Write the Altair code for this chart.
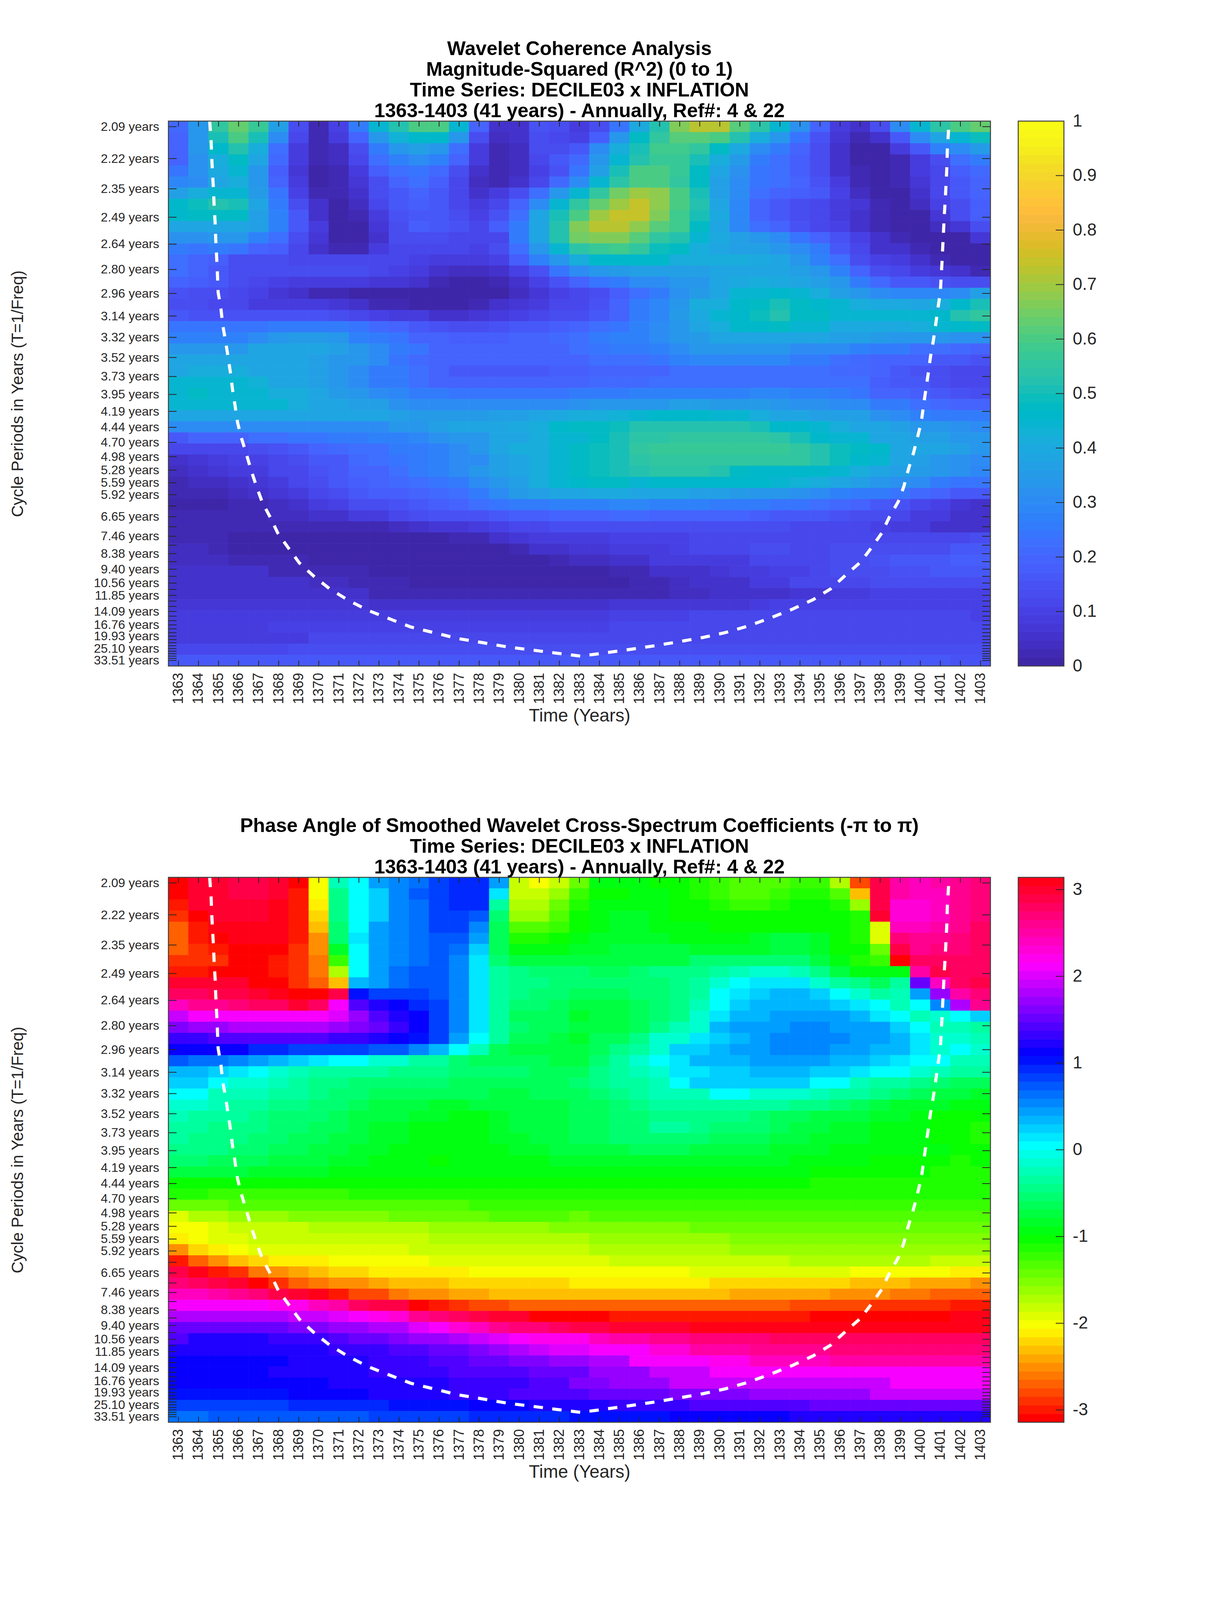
import colorsys
import altair as alt
import pandas as pd

FONT = "Liberation Sans"
INK = "#262626"
W, H, CBW = 2104, 1395, 117

years = list(range(1363, 1404))
periods = [2.0944, 2.2189, 2.3509, 2.4907, 2.6388, 2.7957, 2.9620, 3.1381, 3.3247, 3.5224, 3.7319, 3.9538,
           4.1888, 4.4379, 4.7018, 4.9814, 5.2776, 5.5914, 5.9239, 6.2762, 6.6494, 7.0448, 7.4637, 7.9075,
           8.3776, 8.8758, 9.4036, 9.9628, 10.5552, 11.1828, 11.8478, 12.5523, 13.2988, 14.0896, 14.9274,
           15.8150, 16.7552, 17.7515, 18.8071, 19.9255, 21.1103, 22.3656, 23.6955, 25.1045, 26.5973,
           28.1789, 29.8545, 31.6298, 33.5104]
labelled_periods = [2.0944, 2.2189, 2.3509, 2.4907, 2.6388, 2.7957, 2.9620, 3.1381, 3.3247, 3.5224, 3.7319,
                    3.9538, 4.1888, 4.4379, 4.7018, 4.9814, 5.2776, 5.5914, 5.9239, 6.6494, 7.4637, 8.3776,
                    9.4036, 10.5552, 11.8478, 14.0896, 16.7552, 19.9255, 25.1045, 33.5104]

# Coherence in percent, one list per cycle-period row (top = shortest period)
coh00 = [21,34,55,63,57,36,13,3,10,25,44,52,60,60,44,20,5,5,15,14,9,14,24,40,53,66,73,73,62,54,44,32,20,8,5,14,30,44,54,60,63]
coh01 = [20,34,50,60,50,30,12,3,8,20,33,43,46,46,34,13,4,5,14,12,10,18,33,47,56,62,62,60,52,42,33,24,15,7,3,6,16,30,38,44,49]
coh02 = [19,33,46,53,42,23,9,2,4,14,26,34,36,34,22,8,3,4,13,13,16,30,42,50,58,58,56,48,40,30,26,20,14,6,1,1,8,16,27,31,35]
coh03 = [19,32,42,47,38,21,8,2,4,12,22,28,30,28,19,8,3,4,11,16,21,33,45,53,57,57,50,42,35,26,22,18,13,6,1,0,3,9,13,22,26]
coh04 = [24,32,40,44,34,18,7,1,3,9,18,22,24,21,14,6,2,4,10,15,24,36,50,60,60,57,48,39,32,24,22,18,14,6,2,0,3,8,12,18,21]
coh05 = [29,30,38,42,34,20,8,1,3,7,14,20,22,18,11,4,2,6,12,21,30,44,54,60,60,55,47,37,30,24,22,20,15,9,3,0,3,7,11,17,19]
coh06 = [37,42,44,44,35,24,10,3,3,5,13,17,19,16,11,6,8,13,23,33,44,55,65,70,68,60,50,37,30,22,20,18,16,10,4,0,1,5,11,17,19]
coh07 = [46,49,52,50,38,25,14,5,1,4,11,16,18,16,12,8,11,19,31,44,55,63,70,74,68,60,53,39,29,20,17,14,12,9,7,3,0,4,10,14,18]
coh08 = [46,47,48,47,36,28,17,6,1,2,8,15,17,16,13,10,15,23,38,51,60,70,74,74,67,59,51,40,29,20,16,13,11,9,6,3,0,1,7,13,18]
coh09 = [38,38,39,39,36,28,16,8,0,1,7,14,18,17,15,12,18,25,38,53,66,72,72,68,62,58,47,38,29,22,20,15,12,10,6,3,0,0,4,7,13]
coh10 = [32,32,33,34,27,22,14,7,0,0,6,13,14,14,12,11,12,25,38,53,65,66,66,62,55,53,44,40,36,33,30,24,20,15,10,5,2,0,0,1,7]
coh11 = [25,24,25,24,20,18,12,6,2,3,9,12,12,12,11,10,13,22,34,44,54,57,58,55,49,47,42,39,37,36,34,31,26,17,12,6,5,2,0,0,1]
coh12 = [23,20,18,14,14,13,12,11,11,11,11,11,10,9,8,8,10,18,27,34,42,46,46,46,46,42,41,41,41,40,39,34,28,22,13,10,8,5,3,0,0]
coh13 = [22,19,17,14,13,13,13,13,13,13,11,10,8,6,4,4,5,10,15,24,31,34,35,36,36,37,37,38,38,38,38,36,33,27,20,14,12,9,7,5,2]
coh14 = [20,18,16,13,12,10,9,9,9,9,7,7,5,3,1,1,2,6,10,15,20,24,25,30,30,34,34,38,40,42,40,38,37,33,26,21,17,16,15,14,14]
coh15 = [15,14,13,11,10,7,6,3,3,1,1,1,0,0,0,0,0,4,7,10,12,14,18,22,26,32,35,38,44,45,46,44,42,37,34,30,29,29,29,31,36]
coh16 = [14,13,12,11,9,9,8,8,7,5,3,3,1,1,1,3,5,7,8,11,12,15,20,25,29,33,41,41,46,48,51,48,46,44,42,40,40,39,41,46,50]
coh17 = [16,15,15,15,15,15,15,15,13,12,10,9,8,6,6,7,9,10,11,14,14,17,20,25,29,35,40,44,46,49,53,48,48,45,45,45,45,45,46,53,55]
coh18 = [24,24,24,24,24,25,25,25,25,24,21,19,16,15,14,14,15,16,17,18,20,22,24,27,30,34,38,42,46,46,47,45,45,40,40,40,40,41,44,46,47]
coh19 = [28,28,28,28,31,34,35,35,33,28,25,24,20,19,18,18,18,20,20,21,23,26,27,28,31,33,35,38,38,39,39,38,38,37,36,35,34,33,33,32,32]
coh20 = [33,33,33,33,38,38,38,38,36,33,31,25,24,19,19,19,19,19,20,20,22,24,25,26,28,30,34,34,34,34,34,31,31,30,28,26,25,23,22,21,19]
coh21 = [38,38,39,39,39,39,39,37,34,34,30,24,21,19,19,19,19,19,19,20,20,22,23,23,24,27,29,29,29,29,29,26,25,23,21,20,19,19,17,16,15]
coh22 = [38,41,41,41,39,39,39,37,34,31,26,25,22,20,17,17,17,17,17,18,18,19,19,20,20,23,23,23,23,23,23,23,23,21,21,19,17,15,14,11,11]
coh23 = [45,45,45,45,43,39,39,37,34,31,26,25,22,20,19,19,19,19,19,19,20,21,21,21,23,23,23,23,23,23,23,23,23,22,22,18,17,16,14,12,12]
coh24 = [45,47,45,45,44,41,41,39,35,33,30,29,25,25,24,24,24,24,24,24,25,25,25,28,28,28,28,28,28,29,29,27,27,26,24,20,20,18,17,15,14]
coh25 = [44,44,44,44,44,44,41,38,38,37,37,32,31,30,30,30,30,30,30,31,32,33,33,33,34,37,37,35,35,35,33,32,32,30,30,26,26,22,21,20,19]
coh26 = [39,39,39,39,39,39,39,39,39,39,39,36,35,35,35,35,36,37,38,40,41,42,43,44,46,46,46,45,44,42,39,38,37,36,36,32,30,28,26,26,25]
coh27 = [30,30,30,30,30,30,31,31,31,31,31,33,34,36,38,38,38,40,41,46,47,47,49,52,52,52,52,52,52,50,46,46,44,41,39,38,36,34,34,32,30]
coh28 = [17,19,19,20,22,23,24,24,25,25,27,28,29,32,34,34,38,39,42,44,45,48,50,54,54,56,56,56,56,56,54,50,46,45,44,39,38,37,37,34,33]
coh29 = [11,11,11,12,13,15,17,20,21,23,23,25,26,28,31,33,38,41,42,45,48,49,51,56,57,57,57,57,57,57,57,56,53,49,47,46,38,38,38,36,33]
coh30 = [6,7,9,10,10,12,14,16,17,21,23,24,26,28,30,31,36,39,41,45,47,49,51,54,55,55,55,55,56,56,56,56,53,49,46,44,39,36,33,32,31]
coh31 = [4,5,7,8,9,11,11,15,16,20,20,23,25,27,30,33,36,38,41,45,47,49,50,53,54,54,54,52,48,46,46,46,46,44,42,38,37,35,33,32,29]
coh32 = [3,4,4,6,7,9,12,14,16,18,20,21,23,24,26,30,34,37,41,44,46,47,47,45,46,46,46,46,46,46,45,43,41,38,36,33,32,30,26,24,24]
coh33 = [2,2,3,4,5,7,8,11,14,16,18,18,20,21,23,26,30,35,36,38,38,40,40,39,39,38,37,36,35,34,33,32,30,27,26,25,24,21,20,17,16]
coh34 = [1,1,1,3,3,4,5,8,10,13,14,15,17,18,20,22,24,25,26,27,27,28,29,29,28,27,27,26,26,25,24,24,22,21,20,17,15,12,10,7,6]
coh35 = [2,2,2,3,3,4,4,6,6,9,9,11,13,15,15,15,17,18,18,20,20,20,21,21,20,19,19,19,19,18,17,16,16,15,14,13,12,9,8,6,5]
coh36 = [3,2,2,2,3,3,2,2,2,3,3,4,5,7,7,9,10,11,11,13,13,13,13,13,13,13,13,13,13,13,13,12,11,11,11,10,9,9,6,6,6]
coh37 = [3,2,2,1,1,1,1,1,0,0,0,1,1,1,2,2,5,7,8,8,9,9,10,10,10,10,11,11,11,11,11,11,11,11,11,11,11,11,11,11,13]
coh38 = [4,4,2,1,1,1,1,1,1,1,1,1,0,0,0,0,1,3,5,5,7,7,8,9,9,10,11,11,11,13,13,11,11,13,13,13,14,14,14,16,16]
coh39 = [4,4,4,3,3,2,2,1,1,1,1,1,0,0,0,0,0,0,0,3,4,4,6,6,8,8,9,9,9,11,11,12,12,14,14,15,16,17,17,18,18]
coh40 = [5,5,5,5,5,3,3,3,3,3,0,0,0,0,0,0,0,0,0,1,1,1,2,2,5,6,6,7,8,8,10,10,12,13,13,13,15,15,16,17,17]
coh41 = [5,5,5,5,5,5,5,4,4,3,3,2,1,1,1,1,1,1,1,1,1,1,1,2,2,4,5,5,5,8,9,11,11,12,12,13,13,13,13,14,13]
coh42 = [6,6,6,6,6,6,6,6,6,6,2,2,2,2,2,2,2,2,2,2,2,2,3,3,3,4,4,5,5,6,6,7,7,8,8,10,10,10,10,10,10]
coh43 = [7,7,7,7,7,7,7,7,7,7,6,6,6,6,6,6,6,5,5,5,5,5,7,7,7,7,7,7,7,8,10,10,10,10,10,10,10,10,10,10,10]
coh44 = [8,8,8,8,8,8,8,8,8,8,9,9,9,9,9,9,9,9,9,9,9,9,10,10,10,10,11,11,11,11,11,11,11,11,11,12,12,12,12,12,10]
coh45 = [8,8,8,8,8,10,10,10,10,10,10,10,10,10,10,10,10,10,10,10,10,10,11,11,11,11,11,11,11,11,11,11,11,11,11,11,11,11,11,11,11]
coh46 = [9,9,9,9,9,9,9,11,11,11,11,11,11,11,11,11,11,11,11,11,11,12,12,12,12,12,12,12,12,12,12,12,12,12,12,12,12,12,12,11,11]
coh47 = [12,12,12,12,12,12,13,13,13,13,13,13,13,13,13,13,13,13,13,13,13,14,14,14,14,14,14,14,14,14,14,14,14,14,14,14,13,13,13,13,13]
coh48 = [17,17,17,17,17,17,17,17,17,17,17,17,17,17,17,17,17,16,16,16,16,16,16,16,16,16,16,16,16,16,16,16,16,16,16,16,16,16,16,15,15]

# Phase angle in tenths of a radian, one list per cycle-period row
ph00 = [-31,30,30,29,29,30,-31,-20,-2,0,4,5,6,8,9,9,4,-18,-20,-18,-14,-9,-9,-9,-10,-10,-11,-12,-13,-13,-13,-12,-12,-17,-28,29,25,24,25,26,27]
ph01 = [-31,30,30,29,29,30,-30,-20,-4,0,2,5,7,8,9,9,1,-18,-18,-16,-12,-10,-10,-9,-9,-10,-11,-12,-13,-13,-12,-11,-11,-13,-23,29,25,24,24,26,27]
ph02 = [-30,30,30,30,30,31,-30,-21,-4,0,2,5,6,8,9,9,-3,-17,-17,-14,-11,-9,-9,-9,-9,-10,-10,-11,-12,-12,-11,-10,-10,-11,-16,29,23,23,24,26,27]
ph03 = [-29,-31,30,30,30,31,-30,-22,-4,0,2,5,6,8,8,7,-5,-16,-16,-13,-10,-9,-8,-8,-9,-10,-10,-10,-10,-10,-10,-10,-10,-10,-11,30,23,23,24,26,27]
ph04 = [-27,-30,31,31,31,31,-30,-23,-5,0,4,5,6,8,8,5,-6,-13,-13,-12,-10,-9,-8,-8,-9,-9,-9,-10,-10,-10,-10,-10,-10,-10,-11,-19,24,24,25,26,28]
ph05 = [-27,-30,-31,31,31,31,-30,-25,-5,1,4,5,6,7,7,4,-6,-11,-11,-10,-9,-8,-8,-8,-8,-9,-9,-9,-9,-8,-7,-7,-8,-10,-11,-19,27,26,26,27,28]
ph06 = [-27,-29,-30,-31,-31,-31,-29,-25,-8,0,4,5,6,7,6,2,-6,-9,-9,-9,-8,-8,-7,-7,-7,-7,-8,-8,-8,-8,-7,-7,-8,-10,-10,-14,29,26,27,27,28]
ph07 = [-29,-29,-29,-31,-31,-30,-29,-26,-12,0,4,5,6,7,5,1,-5,-7,-7,-7,-7,-7,-7,-7,-7,-7,-5,-5,-5,-5,-5,-5,-7,-9,-11,-12,-31,28,28,28,28]
ph08 = [-30,-30,-31,-31,-31,-30,-29,-26,-17,0,4,6,7,7,5,1,-3,-4,-5,-5,-5,-6,-6,-5,-4,-4,-4,-3,-2,-1,-1,-2,-4,-7,-9,-9,-9,25,29,28,28]
ph09 = [30,30,30,30,-31,-31,-29,-27,-23,3,4,6,7,7,5,1,-3,-4,-4,-5,-5,-5,-5,-5,-5,-4,-3,-1,0,1,1,1,-1,-3,-4,-6,-3,15,24,28,29]
ph10 = [28,28,29,29,30,31,-31,-31,29,10,8,8,8,7,5,1,-3,-4,-5,-5,-6,-6,-6,-5,-5,-4,-3,0,1,2,3,3,2,0,-1,-3,-2,4,17,25,27]
ph11 = [24,26,26,27,28,28,30,28,21,14,12,11,9,8,5,1,-3,-5,-5,-6,-7,-7,-7,-6,-5,-4,-2,0,2,3,3,3,3,2,1,0,-2,0,5,18,26]
ph12 = [19,21,21,21,21,21,21,21,20,17,14,12,11,8,5,1,-3,-6,-6,-6,-8,-7,-7,-6,-5,-4,-1,1,3,3,4,4,4,4,3,1,0,-2,-1,0,2]
ph13 = [16,17,17,18,18,18,18,18,17,16,15,13,11,8,5,1,-3,-5,-6,-6,-7,-7,-7,-6,-4,-2,-1,3,4,4,4,5,5,4,4,4,2,0,-2,-2,-3]
ph14 = [13,13,14,14,14,14,14,14,13,13,12,11,10,8,4,0,-3,-6,-6,-7,-8,-6,-6,-4,-1,-1,1,2,3,4,5,5,5,5,4,4,3,1,-1,-1,-2]
ph15 = [11,11,11,11,9,9,8,8,8,8,7,7,5,3,0,-2,-6,-7,-7,-7,-7,-6,-4,-3,-1,2,2,3,4,4,5,5,5,4,4,3,3,1,-1,0,-1]
ph16 = [7,6,6,5,4,3,2,1,0,0,-1,-1,-3,-3,-5,-6,-6,-6,-6,-7,-7,-5,-3,-1,0,1,3,3,3,4,4,4,4,3,3,2,1,0,0,-2,-2]
ph17 = [3,3,2,1,0,-1,-2,-3,-3,-3,-3,-4,-4,-4,-5,-5,-5,-5,-6,-6,-6,-4,-3,-2,-1,1,1,2,2,3,3,3,2,2,1,0,0,-1,-2,-3,-3]
ph18 = [2,2,0,-1,-1,-2,-3,-4,-4,-5,-5,-5,-5,-5,-6,-6,-6,-6,-6,-6,-5,-4,-3,-3,-2,0,2,2,2,2,2,2,0,0,-2,-3,-3,-4,-5,-6,-6]
ph19 = [0,0,-2,-2,-2,-3,-3,-4,-5,-5,-6,-6,-6,-6,-6,-6,-7,-7,-6,-6,-6,-5,-4,-3,-2,-2,-2,0,0,-1,-1,-1,-2,-3,-3,-4,-5,-6,-7,-7,-8]
ph20 = [-1,-1,-2,-3,-3,-4,-4,-5,-5,-6,-7,-7,-7,-8,-8,-7,-7,-7,-7,-7,-6,-6,-5,-4,-3,-3,-3,-3,-3,-3,-3,-4,-4,-5,-6,-7,-8,-8,-8,-9,-9]
ph21 = [-2,-3,-3,-3,-4,-5,-5,-5,-6,-7,-7,-7,-8,-8,-9,-9,-8,-7,-7,-7,-6,-6,-5,-5,-4,-4,-4,-4,-4,-5,-6,-6,-7,-7,-7,-8,-8,-9,-10,-10,-10]
ph22 = [-3,-3,-4,-4,-4,-5,-5,-6,-6,-7,-8,-8,-9,-9,-9,-9,-8,-7,-7,-7,-6,-6,-5,-5,-3,-3,-4,-5,-5,-5,-6,-7,-7,-8,-8,-9,-9,-9,-10,-10,-11]
ph23 = [-3,-4,-4,-4,-5,-5,-6,-6,-7,-7,-8,-8,-9,-9,-9,-9,-8,-8,-7,-7,-6,-6,-5,-5,-5,-5,-5,-6,-6,-6,-7,-7,-8,-8,-8,-9,-9,-9,-10,-10,-11]
ph24 = [-4,-4,-4,-5,-5,-6,-6,-7,-7,-8,-8,-9,-9,-9,-9,-9,-9,-8,-8,-7,-7,-7,-7,-6,-6,-6,-7,-7,-7,-7,-8,-8,-8,-9,-9,-9,-9,-9,-9,-10,-10]
ph25 = [-5,-5,-6,-6,-6,-7,-7,-7,-8,-8,-9,-9,-9,-10,-9,-9,-9,-9,-9,-8,-8,-8,-8,-8,-8,-8,-8,-8,-8,-8,-8,-9,-9,-9,-9,-10,-10,-10,-10,-11,-10]
ph26 = [-7,-7,-7,-7,-8,-8,-8,-8,-9,-9,-9,-9,-9,-9,-9,-9,-9,-9,-9,-9,-9,-9,-9,-9,-9,-9,-9,-9,-9,-9,-9,-9,-10,-10,-10,-10,-10,-10,-11,-11,-11]
ph27 = [-10,-10,-10,-10,-10,-10,-10,-10,-10,-10,-10,-10,-10,-10,-10,-10,-10,-10,-10,-10,-10,-10,-10,-10,-10,-10,-10,-10,-10,-10,-10,-10,-11,-11,-11,-11,-11,-11,-11,-11,-11]
ph28 = [-11,-11,-12,-12,-12,-12,-12,-12,-12,-11,-11,-11,-11,-11,-11,-11,-11,-11,-11,-11,-11,-11,-11,-11,-11,-11,-11,-11,-11,-11,-11,-11,-11,-11,-11,-11,-11,-11,-11,-11,-11]
ph29 = [-14,-14,-14,-13,-13,-13,-13,-13,-13,-13,-13,-13,-13,-13,-13,-12,-12,-12,-12,-12,-12,-12,-12,-12,-12,-12,-12,-12,-12,-12,-12,-12,-12,-12,-12,-12,-12,-12,-12,-12,-12]
ph30 = [-19,-17,-17,-16,-16,-16,-15,-15,-15,-15,-15,-14,-14,-14,-14,-14,-13,-13,-13,-13,-14,-13,-13,-13,-13,-13,-13,-13,-13,-13,-13,-13,-13,-13,-13,-13,-13,-13,-13,-13,-13]
ph31 = [-20,-20,-19,-18,-18,-18,-18,-17,-17,-17,-17,-17,-17,-16,-16,-16,-16,-16,-16,-15,-15,-15,-15,-15,-15,-15,-14,-14,-14,-14,-14,-14,-14,-14,-14,-14,-14,-14,-14,-14,-14]
ph32 = [-21,-20,-19,-19,-18,-18,-18,-18,-18,-18,-18,-18,-18,-17,-17,-17,-17,-17,-17,-17,-17,-16,-16,-16,-16,-16,-16,-16,-15,-15,-15,-15,-15,-15,-15,-15,-15,-15,-15,-15,-15]
ph33 = [-25,-22,-21,-20,-19,-19,-19,-19,-19,-19,-19,-19,-18,-18,-18,-18,-18,-18,-18,-18,-18,-17,-17,-17,-17,-17,-17,-17,-16,-16,-16,-16,-16,-16,-16,-16,-16,-16,-16,-16,-16]
ph34 = [-30,-27,-25,-23,-22,-21,-21,-21,-20,-20,-20,-20,-20,-19,-19,-19,-19,-19,-19,-19,-19,-19,-18,-18,-18,-18,-18,-18,-18,-18,-18,-17,-17,-17,-17,-17,-17,-17,-18,-18,-18]
ph35 = [29,31,-30,-29,-26,-25,-24,-23,-22,-22,-21,-21,-21,-21,-21,-20,-20,-20,-20,-20,-20,-20,-20,-20,-20,-20,-19,-19,-19,-19,-19,-19,-19,-19,-20,-20,-20,-20,-20,-21,-21]
ph36 = [27,28,29,30,-31,-29,-27,-26,-25,-25,-24,-23,-23,-23,-22,-22,-22,-22,-22,-22,-21,-21,-21,-21,-21,-21,-21,-22,-22,-22,-22,-22,-22,-22,-23,-23,-23,-24,-24,-24,-25]
ph37 = [24,24,25,26,27,29,30,31,-30,-28,-28,-26,-25,-25,-24,-24,-23,-23,-23,-23,-23,-23,-23,-23,-23,-23,-23,-23,-24,-24,-24,-24,-24,-25,-25,-25,-26,-26,-27,-27,-27]
ph38 = [21,21,21,21,21,22,22,24,25,28,29,29,-31,-30,-29,-28,-28,-27,-27,-27,-27,-27,-27,-27,-27,-27,-27,-27,-27,-27,-27,-28,-28,-28,-28,-29,-29,-29,-29,-30,-30]
ph39 = [18,18,18,18,18,18,19,19,20,21,22,23,26,27,28,29,30,30,-31,-31,-31,-31,-30,-30,-30,-30,-30,-30,-30,-30,-30,-30,-31,-31,-31,-31,-31,-31,-31,31,31]
ph40 = [15,15,15,15,15,15,16,16,17,17,18,18,20,21,23,24,26,27,27,28,29,29,30,30,30,30,31,31,31,31,31,31,31,31,31,31,31,31,31,31,31]
ph41 = [14,12,12,12,12,13,13,13,14,15,15,16,17,17,18,19,20,21,22,22,22,24,25,25,26,26,27,27,27,27,28,28,28,28,28,28,28,28,28,28,28]
ph42 = [12,12,12,12,12,12,12,12,13,13,13,14,14,15,15,16,17,18,19,20,20,21,21,21,23,23,25,25,25,26,26,26,26,27,27,27,27,27,27,27,27]
ph43 = [11,11,11,11,11,11,12,12,12,12,13,13,13,14,14,15,15,16,16,17,17,18,18,21,21,21,21,22,22,24,24,24,24,25,25,25,25,25,25,25,25]
ph44 = [11,11,11,11,11,12,12,12,12,12,13,13,13,13,14,14,14,14,15,15,15,17,17,17,19,19,19,21,21,21,21,21,21,21,21,21,21,21,21,21,21]
ph45 = [11,11,11,11,11,11,11,11,12,12,12,12,12,12,13,13,13,13,14,14,16,16,17,17,17,19,19,19,19,19,19,19,19,19,19,19,21,21,21,21,21]
ph46 = [10,10,10,10,10,10,11,11,11,11,12,12,12,12,13,13,13,14,14,14,14,15,15,15,15,16,16,16,16,17,17,17,17,17,17,19,19,19,19,19,19]
ph47 = [8,8,8,8,8,8,9,9,9,9,9,10,10,10,10,11,11,11,12,12,12,12,13,13,13,13,14,14,14,14,14,14,15,15,15,15,15,15,15,15,15]
ph48 = [6,6,7,7,7,7,7,7,7,7,8,8,8,8,8,9,9,9,9,9,10,10,10,10,10,11,11,11,11,11,11,12,12,12,12,12,12,12,12,12,12]

coh_rows = [coh00,coh01,coh02,coh03,coh04,coh05,coh06,coh07,coh08,coh09,coh10,coh11,coh12,coh13,coh14,coh15,coh16,
            coh17,coh18,coh19,coh20,coh21,coh22,coh23,coh24,coh25,coh26,coh27,coh28,coh29,coh30,coh31,coh32,coh33,
            coh34,coh35,coh36,coh37,coh38,coh39,coh40,coh41,coh42,coh43,coh44,coh45,coh46,coh47,coh48]
ph_rows = [ph00,ph01,ph02,ph03,ph04,ph05,ph06,ph07,ph08,ph09,ph10,ph11,ph12,ph13,ph14,ph15,ph16,
           ph17,ph18,ph19,ph20,ph21,ph22,ph23,ph24,ph25,ph26,ph27,ph28,ph29,ph30,ph31,ph32,ph33,
           ph34,ph35,ph36,ph37,ph38,ph39,ph40,ph41,ph42,ph43,ph44,ph45,ph46,ph47,ph48]
for name, rows in (("coh", coh_rows), ("ph", ph_rows)):
    for i, r in enumerate(rows):
        assert len(r) == 41, f"{name}{i}: {len(r)}"

# Cone of influence
coi_year = [1364.56,1364.63,1364.66,1364.70,1364.75,1364.78,1364.83,1364.86,1364.90,1364.94,1364.98,1365.12,1365.21,
            1365.35,1365.48,1365.60,1365.70,1365.83,1365.95,1366.15,1366.40,1366.63,1366.89,1367.18,1367.59,1367.96,
            1368.51,1369.03,1369.75,1370.55,1371.47,1372.42,1373.52,1374.59,1375.78,1376.91,1378.12,1379.40,1381.80,
            1383.05,1383.75,1385.52,1386.73,1387.94,1389.15,1390.28,1391.47,1392.54,1393.63,1394.65,1395.54,1396.26,
            1397.02,1397.57,1398.08,1398.45,1398.90,1399.17,1399.42,1399.66,1399.85,1400.05,1400.16,1400.28,1400.40,
            1400.51,1400.65,1400.77,1400.88,1401.00,1401.08,1401.12,1401.16,1401.20,1401.25,1401.29,1401.33,1401.35,
            1401.40,1401.42]
coi_freq = [.4818,.4656,.4519,.4382,.4245,.4110,.3973,.3836,.3699,.3562,.3387,.3248,.3111,
            .2976,.2839,.2704,.2567,.2430,.2293,.2159,.2023,.1891,.1759,.1626,.1495,.1365,
            .1236,.1116,.1005,.0898,.0804,.0721,.0648,.0579,.0530,.0483,.0449,.0412,.0361,
            .0335,.0350,.0391,.0421,.0455,.0491,.0532,.0590,.0656,.0729,.0808,.0900,.1012,
            .1123,.1245,.1367,.1499,.1630,.1752,.1908,.2038,.2163,.2297,.2436,.2573,.2710,
            .2847,.2980,.3119,.3252,.3389,.3631,.3768,.3905,.4042,.4176,.4313,.4450,.4587,
            .4722,.4774]

parula = [(.2422,.1504,.6603),(.2504,.1650,.7076),(.2578,.1818,.7511),(.2647,.1978,.7952),(.2706,.2147,.8364),
          (.2751,.2342,.8710),(.2783,.2559,.8991),(.2803,.2782,.9221),(.2813,.3006,.9414),(.2810,.3228,.9579),
          (.2795,.3447,.9717),(.2760,.3667,.9829),(.2699,.3892,.9906),(.2602,.4123,.9952),(.2440,.4358,.9988),
          (.2206,.4603,.9973),(.1963,.4847,.9892),(.1834,.5074,.9798),(.1786,.5289,.9682),(.1764,.5499,.9520),
          (.1687,.5703,.9359),(.1540,.5902,.9218),(.1460,.6091,.9079),(.1380,.6276,.8973),(.1248,.6459,.8883),
          (.1113,.6635,.8763),(.0952,.6798,.8598),(.0689,.6948,.8394),(.0297,.7082,.8163),(.0036,.7203,.7917),
          (.0067,.7312,.7660),(.0433,.7411,.7394),(.0964,.7500,.7120),(.1408,.7584,.6842),(.1717,.7670,.6554),
          (.1938,.7758,.6251),(.2161,.7843,.5923),(.2470,.7918,.5567),(.2906,.7973,.5188),(.3406,.8008,.4789),
          (.3909,.8029,.4354),(.4456,.8024,.3909),(.5044,.7993,.3480),(.5616,.7942,.3045),(.6174,.7876,.2612),
          (.6720,.7793,.2227),(.7242,.7698,.1910),(.7738,.7598,.1646),(.8203,.7498,.1535),(.8634,.7406,.1596),
          (.9035,.7330,.1774),(.9393,.7288,.2100),(.9728,.7298,.2394),(.9956,.7434,.2371),(.9961,.7653,.2199),
          (.9857,.7886,.2000),(.9700,.8120,.1850),(.9597,.8375,.1650),(.9561,.8640,.1500),(.9579,.8917,.1300),
          (.9634,.9200,.1150),(.9700,.9500,.1000),(.9740,.9700,.0900),(.9769,.9839,.0805)]


def to_hex(c):
    return "#%02x%02x%02x" % tuple(round(v * 255) for v in c)


PARULA = [to_hex(c) for c in parula]
HSV = [to_hex(colorsys.hsv_to_rgb(i / 64, 1, 1)) for i in range(64)]
PI = 3.14159265

f_top, f_bot = 1 / periods[0], 1 / periods[-1]
df_step = (f_top - f_bot) / 48
y_dom = [f_bot - df_step / 2, f_top + df_step / 2]
x_dom = [1362.5, 1403.5]
x_scale = alt.Scale(domain=x_dom, nice=False, zero=False)
y_scale = alt.Scale(domain=y_dom, nice=False, zero=False)

x_axis = alt.Axis(values=years, format="d", labelAngle=270, labelAlign="right", labelBaseline="middle",
                  labelFontSize=36, labelFont=FONT, labelColor=INK, labelPadding=17, labelOverlap=False,
                  labelFlush=False, ticks=False, domain=False, grid=False, title="Time (Years)", titleFontSize=46,
                  titleFont=FONT, titleFontWeight="normal", titleColor=INK, titlePadding=8)
y_axis = alt.Axis(values=[1 / p for p in labelled_periods], labelExpr="format(1/datum.value,'.2f')+' years'",
                  labelFontSize=32, labelFont=FONT, labelColor=INK, labelPadding=24, labelOverlap=False,
                  labelFlush=False, labelLimit=500, labelBaseline="middle", ticks=False, domain=False, grid=False,
                  title="Cycle Periods in Years (T=1/Freq)", titleFontSize=42, titleFont=FONT,
                  titleFontWeight="normal", titleColor=INK, titlePadding=172)

tick_y = pd.DataFrame({"f": [1 / p for p in periods]})
tick_x = pd.DataFrame({"year": years})
coi = pd.DataFrame({"year": coi_year, "f": coi_freq})
frame_data = alt.Data(values=[{"a": 1}])


def frame(w, h):
    return alt.Chart(frame_data).mark_rect(fill=None, stroke="#404040", strokeWidth=2.5).encode(
        x=alt.value(0), x2=alt.value(w), y=alt.value(0), y2=alt.value(h))


def panel(rows, factor, domain, colors, title):
    recs = []
    for i, row in enumerate(rows):
        fc = f_top - i * df_step
        for yr, v in zip(years, row):
            recs.append({"x0": yr - .5, "x1": yr + .5, "y0": fc - df_step / 2, "y1": fc + df_step / 2, "v": v * factor})
    data = pd.DataFrame(recs)
    cs = alt.Scale(type="quantize", domain=domain, range=colors, nice=False)
    cells = alt.Chart(data).mark_rect(strokeWidth=0.8).encode(
        x=alt.X("x0:Q", scale=x_scale, axis=x_axis),
        x2="x1:Q",
        y=alt.Y("y0:Q", scale=y_scale, axis=y_axis),
        y2="y1:Q",
        color=alt.Color("v:Q", scale=cs, legend=None),
        stroke=alt.Stroke("v:Q", scale=cs, legend=None),
    )
    ex = alt.X("year:Q", scale=x_scale, axis=x_axis)
    ey = alt.Y("f:Q", scale=y_scale, axis=y_axis)
    t_left = alt.Chart(tick_y).mark_rule(color=INK, strokeWidth=2).encode(y=ey, x=alt.value(0), x2=alt.value(21))
    t_right = alt.Chart(tick_y).mark_rule(color=INK, strokeWidth=2).encode(y=ey, x=alt.value(W - 21), x2=alt.value(W))
    t_top = alt.Chart(tick_x).mark_rule(color=INK, strokeWidth=2).encode(x=ex, y=alt.value(0), y2=alt.value(14))
    t_bot = alt.Chart(tick_x).mark_rule(color=INK, strokeWidth=2).encode(x=ex, y=alt.value(H - 14), y2=alt.value(H))
    line = alt.Chart(coi).mark_line(color="white", strokeWidth=8, strokeDash=[24, 24], clip=True).encode(x=ex, y=ey)
    return alt.layer(cells, line, t_left, t_right, t_top, t_bot, frame(W, H)).properties(
        width=W, height=H,
        title=alt.TitleParams(text=title, fontSize=50, font=FONT, fontWeight="bold", color="black",
                              lineHeight=53, anchor="middle", offset=-2))


def colorbar(domain, colors, tick_values):
    step = (domain[1] - domain[0]) / 64
    data = pd.DataFrame([{"lo": domain[0] + i * step, "hi": domain[0] + (i + 1) * step,
                          "v": domain[0] + (i + .5) * step} for i in range(64)])
    ys = alt.Scale(domain=domain, nice=False, zero=False)
    cs = alt.Scale(type="quantize", domain=domain, range=colors, nice=False)
    ax = alt.Axis(orient="right", values=tick_values, labelExpr="''+datum.value", labelFontSize=44, labelFont=FONT,
                  labelColor=INK, labelPadding=22, labelOverlap=False, labelFlush=False, labelBaseline="middle",
                  ticks=False, domain=False, grid=False, title=None)
    bar = alt.Chart(data).mark_rect(strokeWidth=0.8).encode(
        y=alt.Y("lo:Q", scale=ys, axis=ax),
        y2="hi:Q", x=alt.value(0), x2=alt.value(CBW),
        color=alt.Color("v:Q", scale=cs, legend=None),
        stroke=alt.Stroke("v:Q", scale=cs, legend=None),
    )
    ticks = alt.Chart(pd.DataFrame({"t": tick_values})).mark_rule(color=INK, strokeWidth=2).encode(
        y=alt.Y("t:Q", scale=ys, axis=ax), x=alt.value(CBW - 21), x2=alt.value(CBW))
    return alt.layer(bar, ticks, frame(CBW, H)).properties(width=CBW, height=H)


top_title = ["Wavelet Coherence Analysis", "Magnitude-Squared (R^2) (0 to 1)",
             "Time Series: DECILE03 x INFLATION", "1363-1403 (41 years) - Annually, Ref#: 4 & 22"]
bot_title = ["Phase Angle of Smoothed Wavelet Cross-Spectrum Coefficients (-\u03c0 to \u03c0)",
             "Time Series: DECILE03 x INFLATION", "1363-1403 (41 years) - Annually, Ref#: 4 & 22"]
cb_top_ticks = [0, 0.1, 0.2, 0.3, 0.4, 0.5, 0.6, 0.7, 0.8, 0.9, 1]
cb_bot_ticks = [-3, -2, -1, 0, 1, 2, 3]

chart = alt.concat(
    panel(coh_rows, 0.01, [0, 1], PARULA, top_title),
    colorbar([0, 1], PARULA, cb_top_ticks),
    panel(ph_rows, 0.1, [-PI, PI], HSV, bot_title),
    colorbar([-PI, PI], HSV, cb_bot_ticks),
    columns=2, bounds="flush", align="each",
    spacing=alt.RowColnumber(row=541, column=71),
).resolve_scale(color="independent", stroke="independent").properties(
    padding={"left": 16, "top": 93, "right": 10, "bottom": 10}, background="white"
).configure_view(stroke=None)

chart.save("out.html", embed_options={"renderer": "svg", "actions": False})
